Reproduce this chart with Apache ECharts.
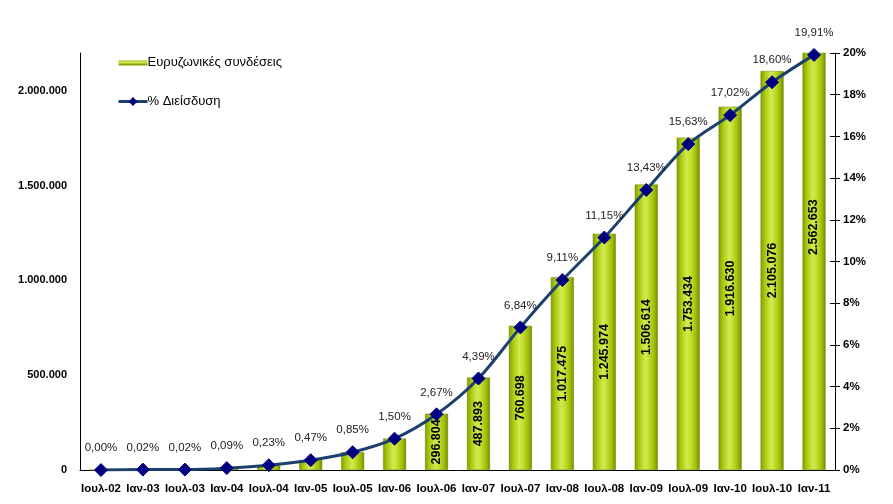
<!DOCTYPE html>
<html><head><meta charset="utf-8">
<script src="https://cdn.jsdelivr.net/npm/echarts@6/dist/echarts.min.js"></script>
<style>html,body{margin:0;padding:0;background:#fff}#c{width:893px;height:504px}</style>
</head><body><div id="c"></div>
<script>
const categories = ['Ιουλ-02','Ιαν-03','Ιουλ-03','Ιαν-04','Ιουλ-04','Ιαν-05','Ιουλ-05','Ιαν-06','Ιουλ-06','Ιαν-07','Ιουλ-07','Ιαν-08','Ιουλ-08','Ιαν-09','Ιουλ-09','Ιαν-10','Ιουλ-10','Ιαν-11'];
const connections = [200, 2000, 2500, 10000, 25500, 52000, 94000, 165700, 296804, 487893, 760698, 1017475, 1245974, 1506614, 1753434, 1916630, 2105076, 2562653];
const penetration = [0.00, 0.02, 0.02, 0.09, 0.23, 0.47, 0.85, 1.50, 2.67, 4.39, 6.84, 9.11, 11.15, 13.43, 15.63, 17.02, 18.60, 19.91];
const labelledFrom = 8; // bar value labels shown from Ιουλ-06 on
const seriesNames = ['Ευρυζωνικές συνδέσεις', '% Διείσδυση'];

const fmtThousands = v => String(Math.round(v)).replace(/\B(?=(\d{3})+(?!\d))/g, '.');
const font = 'Liberation Sans, Arial, sans-serif';
const barGrad = new echarts.graphic.LinearGradient(0, 0, 1, 0, [
  {offset: 0, color: '#7f9c00'},
  {offset: 0.18, color: '#a8c80c'},
  {offset: 0.45, color: '#d2ea52'},
  {offset: 0.6, color: '#c4e030'},
  {offset: 0.85, color: '#9cbc06'},
  {offset: 1, color: '#708a00'}
]);
const legendGrad = new echarts.graphic.LinearGradient(0, 0, 0, 1, [
  {offset: 0.3, color: '#9cbc06'},
  {offset: 0.5, color: '#d2ea52'},
  {offset: 0.7, color: '#7f9c00'}
]);

const chart = echarts.init(document.getElementById('c'));
chart.setOption({
  animation: false,
  textStyle: {fontFamily: font},
  grid: {left: 80, right: 58, top: 53, bottom: 34},
  legend: {
    orient: 'vertical', left: 112, top: 51, itemGap: 26, itemWidth: 29, itemHeight: 11,
    data: [
      {name: seriesNames[0], icon: 'path://M0,0L29,0M0,3.5h29v5h-29zM0,11L29,11',
       itemStyle: {color: legendGrad, borderWidth: 0}},
      {name: seriesNames[1]}
    ],
    lineStyle: {width: 3},
    textStyle: {fontFamily: font, fontSize: 13, color: '#000', padding: [0, 0, 0, -5]}
  },
  xAxis: {
    type: 'category', data: categories,
    axisLine: {lineStyle: {color: '#000', width: 1}},
    axisTick: {show: false},
    axisLabel: {fontFamily: font, fontSize: 11.5, fontWeight: 'bold', color: '#000', margin: 13, interval: 0}
  },
  yAxis: [
    {
      type: 'value', min: 0, max: 2200000, interval: 500000, position: 'left',
      splitLine: {show: false},
      axisLine: {show: true, lineStyle: {color: '#000'}},
      axisTick: {show: false},
      axisLabel: {fontFamily: font, fontSize: 11, fontWeight: 'bold', color: '#000', margin: 13,
        showMaxLabel: false, formatter: v => fmtThousands(v)}
    },
    {
      type: 'value', min: 0, max: 20, interval: 2, position: 'right',
      splitLine: {show: false},
      axisLine: {show: true, lineStyle: {color: '#000'}},
      axisTick: {show: true, length: 5, lineStyle: {color: '#000'}},
      axisLabel: {fontFamily: font, fontSize: 11.5, fontWeight: 'bold', color: '#000', margin: 8, formatter: '{value}%'}
    },
    {
      type: 'value', min: 0, max: 20, interval: 2, position: 'right',
      splitLine: {show: false},
      axisLine: {show: false},
      axisTick: {show: true, inside: true, length: 5, lineStyle: {color: '#000'}},
      axisLabel: {show: false}
    }
  ],
  series: [
    {
      name: seriesNames[0], type: 'bar', data: connections, barWidth: 23, barGap: '-100%',
      clip: true, z: 2,
      itemStyle: {color: barGrad, borderColor: '#6f8a00', borderWidth: 0.5}
    },
    {
      name: 'labels', type: 'bar', data: connections, barWidth: 23, clip: false, z: 3,
      itemStyle: {color: 'rgba(0,0,0,0)'}, silent: true,
      label: {
        show: true, position: 'inside', rotate: 90, fontFamily: font, fontSize: 12.5,
        fontWeight: 'bold', color: '#000',
        formatter: p => p.dataIndex >= labelledFrom ? fmtThousands(p.value) : ''
      }
    },
    {
      name: seriesNames[1], type: 'line', yAxisIndex: 1, data: penetration, smooth: 0.3, z: 5,
      symbol: 'diamond', symbolSize: 13,
      lineStyle: {color: '#1c3f6e', width: 3},
      itemStyle: {color: '#000080', borderColor: '#000080'},
      label: {
        show: true, position: 'top', distance: 9, fontFamily: font, fontSize: 11.5, color: '#222',
        formatter: p => p.value.toFixed(2).replace('.', ',') + '%'
      }
    }
  ]
});
</script></body></html>
